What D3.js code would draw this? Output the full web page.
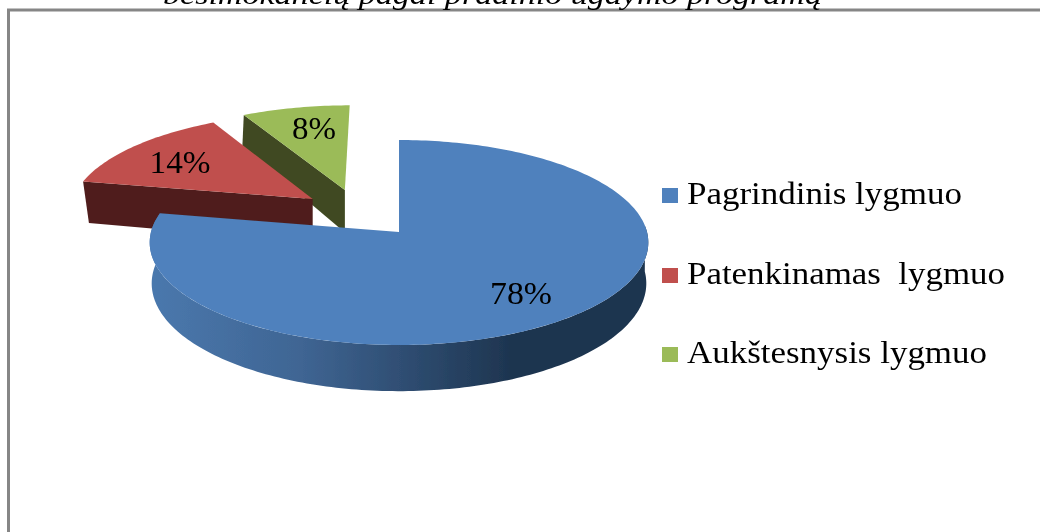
<!DOCTYPE html>
<html>
<head>
<meta charset="utf-8">
<script src="https://cdnjs.cloudflare.com/ajax/libs/d3/7.8.5/d3.min.js"></script>
<style>
    html, body { margin: 0; padding: 0; background: #fff; overflow: hidden; }
    text { font-family: "Liberation Serif", serif; fill: #000; }
</style>
</head>
<body>
<div id="chart"></div>
<script>
const titleText = 'besimokančių pagal pradinio ugdymo programą';
const categories = ['Pagrindinis lygmuo', 'Patenkinamas  lygmuo', 'Aukštesnysis lygmuo'];
const values = [78, 14, 8];
const colors = ['#4f81bd', '#c0504d', '#9bbb59'];
const wallColors = ['#1e3550', '#4f1f1e', '#404a20'];

const width = 1040;
const height = 532;

// disc coordinates -> screen, top face and bottom face of the tilted pie
const topFace = { cx: 399, cy: 232, rx: 248, ry: 101.4, k: 0.1024 };
const bottomFace = { cx: 399, cy: 278, rx: 247, ry: 107.5, k: 0.05 };

// how far each slice is pulled out of the pie, in disc units
const explode = [[0, 0], [-0.36, -0.337], [-0.228, -0.4325]];
const bottomExplodeX = 0.85; // bottom edge leans in a bit on the pulled slices

// label and legend placing
const labelPos = [[521, 304], [180, 173], [314, 139]];
const labelWidth = [62, 61, 44];
const legendX = 662;
const legendY = [195, 275, 354];
const legendTextWidth = [275, 318, 300];

function project(face, u, v) {
    const w = 1 - face.k * v;
    return [face.cx + face.rx * u / w, face.cy + face.ry * v / w];
}

const svg = d3.select('#chart')
    .append('svg')
    .attr('width', width)
    .attr('height', height)
    .style('display', 'block');

const defs = svg.append('defs');

// gradient of the round front wall
const grad = defs.append('linearGradient')
    .attr('id', 'frontWall')
    .attr('gradientUnits', 'userSpaceOnUse')
    .attr('x1', 152).attr('x2', 650).attr('y1', 0).attr('y2', 0);
grad.append('stop').attr('offset', '0%').attr('stop-color', '#4a78ad');
grad.append('stop').attr('offset', '30%').attr('stop-color', '#3f6593');
grad.append('stop').attr('offset', '72%').attr('stop-color', '#1e3550');
grad.append('stop').attr('offset', '100%').attr('stop-color', '#1e3550');

// the source is a soft scan
defs.append('filter')
    .attr('id', 'soft')
    .attr('filterUnits', 'userSpaceOnUse')
    .attr('x', 0).attr('y', 0).attr('width', width).attr('height', height)
    .append('feGaussianBlur')
    .attr('stdDeviation', 0.45);

const root = svg.append('g').attr('filter', 'url(#soft)');

// frame
root.append('rect')
    .attr('x', 8.5).attr('y', 10)
    .attr('width', width + 20).attr('height', height + 20)
    .attr('fill', '#fff')
    .attr('stroke', '#868686')
    .attr('stroke-width', 3);

// caption above the frame, cut off by the page edge
root.append('text')
    .attr('x', 163).attr('y', 4)
    .attr('font-size', 27)
    .attr('font-style', 'italic')
    .attr('textLength', 659)
    .attr('lengthAdjust', 'spacingAndGlyphs')
    .text(titleText);

const pie = d3.pie().sort(null).value(d => d);
const slices = pie(values).map((d, i) => ({ ...d, index: i }));
const line = d3.line();

function rimPoint(face, slice, angle) {
    const [dx, dy] = explode[slice.index];
    const ox = face === bottomFace ? dx * bottomExplodeX : dx;
    return project(face, Math.sin(angle) + ox, -Math.cos(angle) + dy);
}

function rim(face, slice, from, to) {
    const steps = Math.max(2, Math.ceil(Math.abs(to - from) / 0.02));
    return d3.range(steps + 1).map(i => rimPoint(face, slice, from + (to - from) * i / steps));
}

function apex(face, slice) {
    const [dx, dy] = explode[slice.index];
    // the inner edge stays upright, so x comes from the top face
    return [project(topFace, dx, dy)[0], project(face, dx, dy)[1]];
}

// back slices first, the big one covers them
[2, 1, 0].forEach(i => {
    const s = slices[i];

    if (i === 0) {
        // round wall, only the part that faces the viewer
        const from = Math.PI / 2 - 0.06;
        const to = s.endAngle;
        const pts = rim(topFace, s, from, to).concat(rim(bottomFace, s, to, from));
        root.append('path').attr('d', line(pts) + 'Z').attr('fill', 'url(#frontWall)');
    } else {
        // cut face on the left side of the wedge
        const a = s.startAngle;
        const pts = [apex(topFace, s), rimPoint(topFace, s, a), rimPoint(bottomFace, s, a), apex(bottomFace, s)];
        root.append('path').attr('d', line(pts) + 'Z').attr('fill', wallColors[i]);
    }

    const topPts = [apex(topFace, s)].concat(rim(topFace, s, s.startAngle, s.endAngle));
    root.append('path').attr('d', line(topPts) + 'Z').attr('fill', colors[i]);
});

// data labels
values.forEach((v, i) => {
    root.append('text')
        .attr('x', labelPos[i][0] - labelWidth[i] / 2)
        .attr('y', labelPos[i][1])
        .attr('font-size', 31)
        .attr('textLength', labelWidth[i])
        .attr('lengthAdjust', 'spacingAndGlyphs')
        .text(v + '%');
});

// legend
categories.forEach((c, i) => {
    root.append('rect')
        .attr('x', legendX)
        .attr('y', legendY[i] - 7)
        .attr('width', 16)
        .attr('height', 15)
        .attr('fill', colors[i]);

    root.append('text')
        .attr('x', 687)
        .attr('y', legendY[i] + 9)
        .attr('font-size', 31)
        .attr('xml:space', 'preserve')
        .style('white-space', 'pre')
        .attr('textLength', legendTextWidth[i])
        .attr('lengthAdjust', 'spacingAndGlyphs')
        .text(c);
});
</script>
</body>
</html>
